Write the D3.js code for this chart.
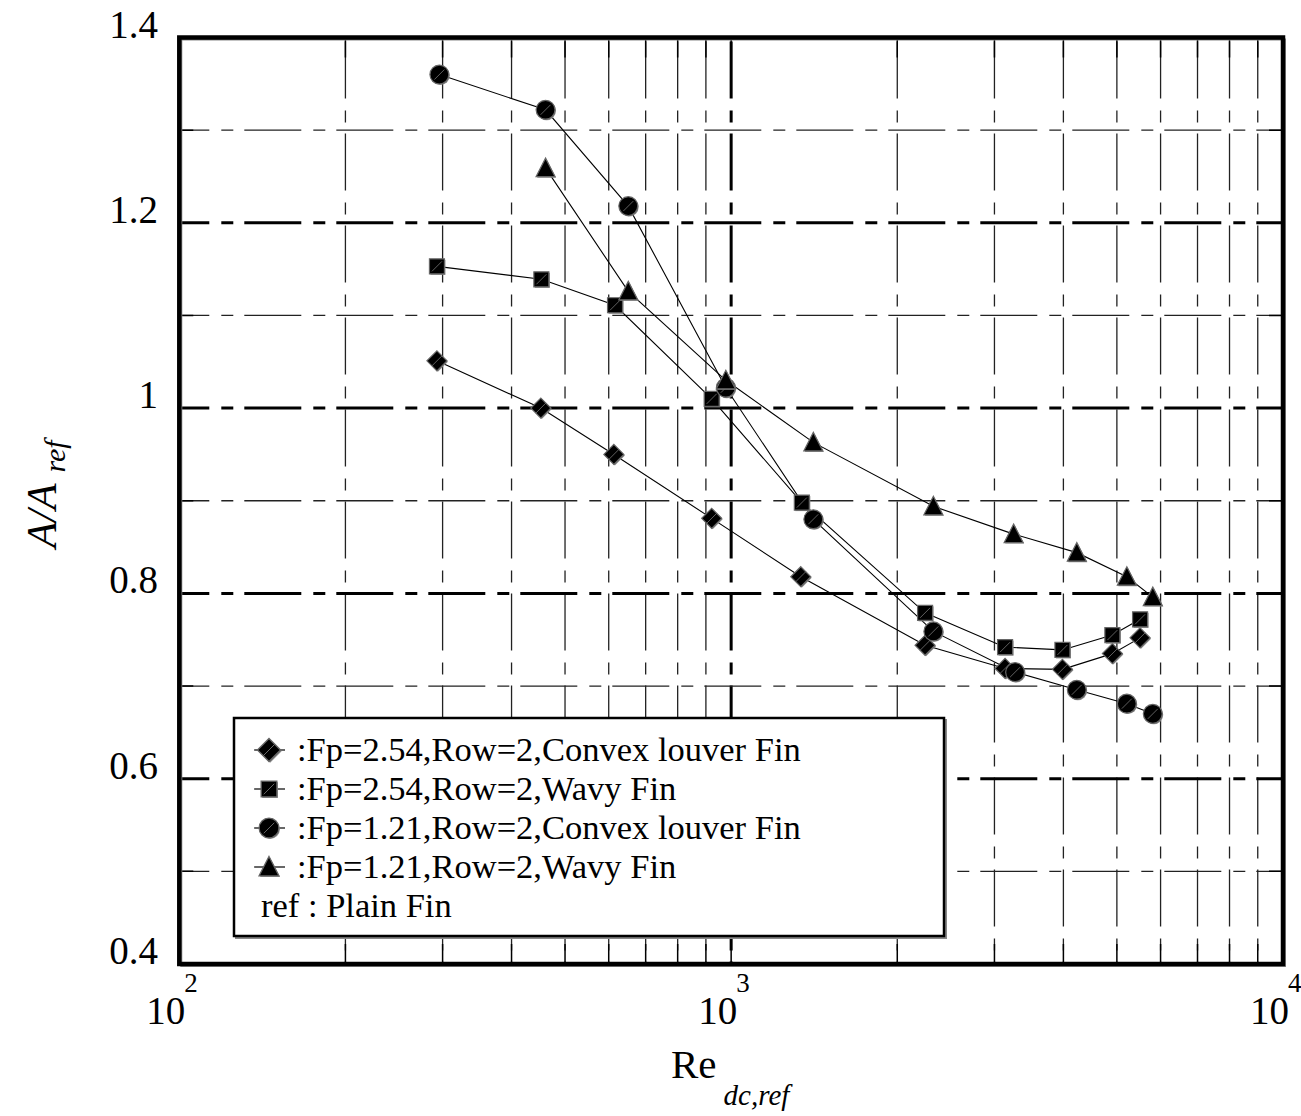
<!DOCTYPE html>
<html lang="en">
<head>
<meta charset="utf-8">
<title>A/Aref vs Re</title>
<script src="https://cdn.jsdelivr.net/npm/d3@7"></script>
<style>
body { margin: 0; background: #fff; }
text { font-family: "Liberation Serif", "Times New Roman", serif; fill: #000; }
</style>
</head>
<body>
<script>
// values
var convex254Re = [293, 452, 613, 922, 1337, 2246, 3136, 3984, 4907, 5508];
var convex254A  = [1.051, 1.000, 0.950, 0.881, 0.818, 0.744, 0.719, 0.718, 0.735, 0.752];
var wavy254Re   = [293, 453, 616, 922, 1343, 2246, 3136, 3984, 4907, 5508];
var wavy254A    = [1.153, 1.139, 1.111, 1.010, 0.898, 0.779, 0.742, 0.739, 0.755, 0.772];
var convex121Re = [296, 461, 651, 978, 1409, 2325, 3270, 4230, 5212, 5808];
var convex121A  = [1.360, 1.322, 1.218, 1.022, 0.880, 0.759, 0.715, 0.696, 0.681, 0.670];
var wavy121Re   = [461, 651, 978, 1409, 2325, 3250, 4230, 5212, 5808];
var wavy121A    = [1.259, 1.126, 1.030, 0.963, 0.894, 0.864, 0.844, 0.818, 0.796];

var legendLabels = [":Fp=2.54,Row=2,Convex louver Fin", ":Fp=2.54,Row=2,Wavy Fin",
                    ":Fp=1.21,Row=2,Convex louver Fin", ":Fp=1.21,Row=2,Wavy Fin"];
var legendNote = "ref : Plain Fin";
var markerShapes = ["diamond", "square", "circle", "triangle"];

var yTickValues = [0.4, 0.6, 0.8, 1.0, 1.2, 1.4];
var yTickLabels = ["0.4", "0.6", "0.8", "1", "1.2", "1.4"];
var yMinorGrid = [0.5, 0.7, 0.9, 1.1, 1.3];
var yMajorGrid = [0.6, 0.8, 1.0, 1.2];
var xDecades = [100, 1000, 10000];
var xExponents = ["2", "3", "4"];

var series = [
  {re: convex254Re, a: convex254A},
  {re: wavy254Re, a: wavy254A},
  {re: convex121Re, a: convex121A},
  {re: wavy121Re, a: wavy121A}
];

var W = 1301, H = 1116;
var x = d3.scaleLog().domain([100, 10000]).range([179.3, 1283]);
var y = d3.scaleLinear().domain([0.4, 1.4]).range([964, 37.5]);

var svg = d3.select("body").append("svg").attr("width", W).attr("height", H);
svg.append("rect").attr("width", W).attr("height", H).attr("fill", "#fff");

svg.append("clipPath").attr("id", "plot")
  .append("rect").attr("x", x(100)).attr("y", y(1.4))
  .attr("width", x(10000) - x(100)).attr("height", y(0.4) - y(1.4));

var grid = svg.append("g").attr("clip-path", "url(#plot)");
var dash = "57,12,12,11";

// vertical grid
var xMinor = x.ticks().filter(function(d) { return xDecades.indexOf(d) < 0; });
grid.selectAll(".vminor").data(xMinor).enter().append("line")
  .attr("x1", function(d) { return x(d); }).attr("x2", function(d) { return x(d); })
  .attr("y1", y(1.4)).attr("y2", y(0.4))
  .attr("stroke", "#222").attr("stroke-width", 1.3)
  .attr("stroke-dasharray", dash).attr("stroke-dashoffset", -4);
grid.append("line")
  .attr("x1", x(1000)).attr("x2", x(1000)).attr("y1", y(1.4)).attr("y2", y(0.4))
  .attr("stroke", "#000").attr("stroke-width", 3)
  .attr("stroke-dasharray", dash).attr("stroke-dashoffset", -4);

// horizontal grid
grid.selectAll(".hminor").data(yMinorGrid).enter().append("line")
  .attr("x1", x(100)).attr("x2", x(10000))
  .attr("y1", function(d) { return y(d); }).attr("y2", function(d) { return y(d); })
  .attr("stroke", "#222").attr("stroke-width", 1.3)
  .attr("stroke-dasharray", dash).attr("stroke-dashoffset", 27);
grid.selectAll(".hmajor").data(yMajorGrid).enter().append("line")
  .attr("x1", x(100)).attr("x2", x(10000))
  .attr("y1", function(d) { return y(d); }).attr("y2", function(d) { return y(d); })
  .attr("stroke", "#000").attr("stroke-width", 3)
  .attr("stroke-dasharray", dash).attr("stroke-dashoffset", 27);

// inward ticks on the frame
var yAll = d3.range(0.5, 1.4, 0.1);
grid.selectAll(".ytick").data(yAll).enter().append("path")
  .attr("d", function(d) {
    return "M" + x(100) + "," + y(d) + "h14M" + x(10000) + "," + y(d) + "h-14";
  })
  .attr("stroke", "#000").attr("stroke-width", 1.5);
grid.selectAll(".xtick").data(xMinor.concat([1000])).enter().append("path")
  .attr("d", function(d) {
    return "M" + x(d) + "," + y(0.4) + "v-20M" + x(d) + "," + y(1.4) + "v20";
  })
  .attr("stroke", "#000").attr("stroke-width", 1.5);

// frame: grey shadow + black thick border
svg.append("rect")
  .attr("x", x(100) + 2).attr("y", y(1.4) + 2)
  .attr("width", x(10000) - x(100)).attr("height", y(0.4) - y(1.4))
  .attr("fill", "none").attr("stroke", "#888").attr("stroke-width", 2);
svg.append("rect")
  .attr("x", x(100)).attr("y", y(1.4))
  .attr("width", x(10000) - x(100)).attr("height", y(0.4) - y(1.4))
  .attr("fill", "none").attr("stroke", "#000").attr("stroke-width", 4.5);

// markers
function markerPath(shape) {
  if (shape == "diamond") return "M0,-10L10,0L0,10L-10,0Z";
  if (shape == "square") return "M-7.5,-7.5H7.5V7.5H-7.5Z";
  if (shape == "triangle") return "M0,-10L9.5,8.5H-9.5Z";
  return d3.symbol().type(d3.symbolCircle).size(280)();
}
function drawMarker(g, shape) {
  g.append("path").attr("d", markerPath(shape)).attr("transform", "translate(1,1)")
    .attr("fill", "#888");
  g.append("path").attr("d", markerPath(shape))
    .attr("fill", "#000").attr("stroke", "#666").attr("stroke-width", 1.2);
  if (shape != "triangle") {
    g.append("line").attr("x1", -5).attr("y1", 5).attr("x2", 5).attr("y2", -5)
      .attr("stroke", "#777").attr("stroke-width", 0.8);
  }
}

var line = d3.line()
  .x(function(d) { return x(d[0]); })
  .y(function(d) { return y(d[1]); });

series.forEach(function(s, i) {
  var pts = s.re.map(function(r, j) { return [r, s.a[j]]; });
  svg.append("path").datum(pts).attr("d", line)
    .attr("fill", "none").attr("stroke", "#000").attr("stroke-width", 1.1);
});
series.forEach(function(s, i) {
  s.re.forEach(function(r, j) {
    var g = svg.append("g").attr("transform", "translate(" + x(r) + "," + y(s.a[j]) + ")");
    drawMarker(g, markerShapes[i]);
  });
});

// legend
var lg = svg.append("g");
lg.append("rect").attr("x", 236).attr("y", 720).attr("width", 710).attr("height", 218)
  .attr("fill", "none").attr("stroke", "#888").attr("stroke-width", 2);
lg.append("rect").attr("x", 234).attr("y", 718).attr("width", 710).attr("height", 218)
  .attr("fill", "#fff").attr("stroke", "#000").attr("stroke-width", 2.5);
legendLabels.forEach(function(t, i) {
  var cy = 750 + i * 39;
  lg.append("line").attr("x1", 254).attr("x2", 285).attr("y1", cy).attr("y2", cy)
    .attr("stroke", "#000").attr("stroke-width", 1.2);
  var sc = markerShapes[i] == "diamond" ? 1.15 : 1.05;
  var g = lg.append("g").attr("transform", "translate(269," + cy + ") scale(" + sc + ")");
  drawMarker(g, markerShapes[i]);
  lg.append("text").attr("x", 297).attr("y", cy + 11).attr("font-size", 34.5).text(t);
});
lg.append("text").attr("x", 261).attr("y", 750 + 4 * 39 + 11).attr("font-size", 34.5).text(legendNote);

// y tick labels
svg.selectAll(".ylab").data(yTickValues).enter().append("text")
  .attr("x", 158).attr("y", function(d) { return y(d); })
  .attr("text-anchor", "end").attr("font-size", 39)
  .text(function(d, i) { return yTickLabels[i]; });

// x tick labels: 10 with exponent
xDecades.forEach(function(d, i) {
  var px = x(d);
  svg.append("text").attr("x", px + 6).attr("y", 1024)
    .attr("text-anchor", "end").attr("font-size", 39).text("10");
  svg.append("text").attr("x", px + 5).attr("y", 992)
    .attr("font-size", 27).text(xExponents[i]);
});

// axis titles
var xt = svg.append("text").attr("x", 671).attr("y", 1078).attr("font-size", 41);
xt.append("tspan").text("Re");
xt.append("tspan").attr("dx", 7).attr("dy", 27).attr("font-size", 29)
  .attr("font-style", "italic").text("dc,ref");

var yt = svg.append("text").attr("transform", "translate(56,548) rotate(-90)")
  .attr("font-size", 43).attr("font-style", "italic");
yt.append("tspan").text("A/A");
yt.append("tspan").attr("dx", 11).attr("dy", 9).attr("font-size", 30).text("ref");
</script>
</body>
</html>
